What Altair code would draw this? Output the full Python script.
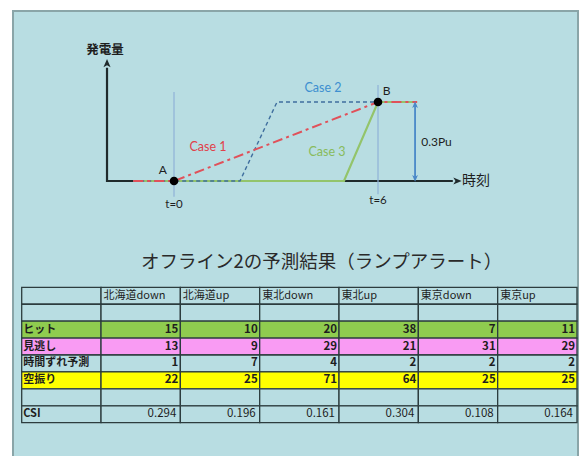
import altair as alt
import pandas as pd

# ---------------- diagram data (t: time, p: output in Pu) ----------------
case1_t = [-1.2, 0.0, 6.0, 7.15]
case1_p = [0.0, 0.0, 0.3, 0.3]
case2_t = [-1.2, 1.94, 3.03, 6.0]
case2_p = [0.0, 0.0, 0.3, 0.3]
case3_t = [-1.2, 5.0, 6.0, 7.15]
case3_p = [0.0, 0.0, 0.3, 0.3]

axis_t = [-1.97, -1.97, 8.2]
axis_p = [0.43, 0.0, 0.0]

point_names = ["A", "B"]
point_t = [0.0, 6.0]
point_p = [0.0, 0.3]

# ---------------- table data ----------------
col_headers = ["", "北海道down", "北海道up", "東北down", "東北up", "東京down", "東京up"]
row_labels = ["", "", "ヒット", "見逃し", "時間ずれ予測", "空振り", "", "CSI"]
row_fills = ["#b8dde2", "#b8dde2", "#8fcc4f", "#f99bf3", "#b8dde2", "#ffff00", "#b8dde2", "#b8dde2"]
hit = [15, 10, 20, 38, 7, 11]
miss = [13, 9, 29, 21, 31, 29]
time_shift = [1, 7, 4, 2, 2, 2]
false_alarm = [22, 25, 71, 64, 25, 25]
csi = [0.294, 0.196, 0.161, 0.304, 0.108, 0.164]
title_text = "オフライン2の予測結果（ランプアラート）"

BG = "#b8dde2"
JP = "Noto Sans CJK JP"
LAT = "Lato"

# scales
TX = alt.Scale(domain=[0, 6], range=[166, 370])
TY = alt.Scale(domain=[0, 0.3], range=[173, 94])
GX = alt.Scale(domain=[0, 7], range=[13.7, 569])
GY = alt.Scale(domain=[0, 8], range=[279.3, 414.7])


def dx_(f="t"):
    return alt.X(f"{f}:Q", scale=TX, axis=None)


def dy_(f="p"):
    return alt.Y(f"{f}:Q", scale=TY, axis=None)


def gx_(f="c"):
    return alt.X(f"{f}:Q", scale=GX, axis=None)


def gy_(f="r"):
    return alt.Y(f"{f}:Q", scale=GY, axis=None)


layers = []

# panel background
panel = alt.Chart(pd.DataFrame({"a": [0]})).mark_rect(
    fill=BG, stroke="#8aa5a8", strokeWidth=2
).encode(x=alt.value(5), x2=alt.value(570), y=alt.value(3), y2=alt.value(470))
layers.append(panel)


def line_df(ts, ps):
    return pd.DataFrame({"t": ts, "p": ps, "i": list(range(len(ts)))})


# axes
layers.append(alt.Chart(line_df(axis_t, axis_p)).mark_line(color="#1f2a2c", strokeWidth=2.2).encode(
    x=dx_(), y=dy_(), order="i:Q"))

arrow_shape = "M0,-1L0.75,0.75L0,0.3L-0.75,0.75Z"
arrows = pd.DataFrame({"t": [-1.97, 8.32], "p": [0.445, 0.0], "a": [0, 90]})
layers.append(alt.Chart(arrows).mark_point(shape=arrow_shape, filled=True, size=90, color="#1f2a2c", opacity=1).encode(
    x=dx_(), y=dy_(), angle=alt.Angle("a:Q", scale=None)))

# vertical reference lines at t=0 and t=6
vref = pd.DataFrame({"t": [0.0, 6.0], "p1": [0.338, 0.365], "p2": [-0.06, -0.05]})
layers.append(alt.Chart(vref).mark_rule(color="#8fb3d8", strokeWidth=1.2).encode(
    x=dx_(), y=dy_("p1"), y2="p2:Q"))

# cases
layers.append(alt.Chart(line_df(case3_t, case3_p)).mark_line(color="#93c46b", strokeWidth=2.2).encode(
    x=dx_(), y=dy_(), order="i:Q"))
layers.append(alt.Chart(line_df(case2_t, case2_p)).mark_line(color="#3f6e9e", strokeWidth=1.4, strokeDash=[4, 3]).encode(
    x=dx_(), y=dy_(), order="i:Q"))
layers.append(alt.Chart(line_df(case1_t, case1_p)).mark_line(color="#e0515a", strokeWidth=2, strokeDash=[10, 4, 3, 4]).encode(
    x=dx_(), y=dy_(), order="i:Q"))

# double arrow 0.3Pu
darrow = pd.DataFrame({"t": [7.09, 7.09], "p": [0.015, 0.285], "i": [0, 1]})
layers.append(alt.Chart(darrow).mark_line(color="#4a88c8", strokeWidth=1.8).encode(x=dx_(), y=dy_(), order="i:Q"))
dheads = pd.DataFrame({"t": [7.09, 7.09], "p": [0.288, 0.012], "a": [0, 180]})
layers.append(alt.Chart(dheads).mark_point(shape=arrow_shape, filled=True, size=60, color="#4a88c8", opacity=1).encode(
    x=dx_(), y=dy_(), angle=alt.Angle("a:Q", scale=None)))

# points A, B
layers.append(alt.Chart(pd.DataFrame({"t": point_t, "p": point_p})).mark_point(
    filled=True, size=75, color="#000000", opacity=1).encode(x=dx_(), y=dy_()))

# diagram labels
labels = pd.DataFrame({
    "t": [-2.03, 8.88, -0.33, 6.25, 0.0, 6.0, 1.0, 4.38, 4.5, 7.27],
    "p": [0.497, 0.0, 0.042, 0.342, -0.09, -0.075, 0.129, 0.353, 0.11, 0.148],
    "txt": ["発電量", "時刻", "A", "B", "t=0", "t=6", "Case 1", "Case 2", "Case 3", "0.3Pu"],
    "col": ["#1e1e1e", "#1e1e1e", "#1e1e1e", "#1e1e1e", "#1e1e1e", "#1e1e1e", "#e0404a", "#3d8fd0", "#88bb5c", "#1e1e1e"],
    "fs": [12.5, 14, 12, 12, 11.5, 11.5, 12.5, 12.5, 12.5, 12],
    "fw": ["bold", "normal", "normal", "normal", "normal", "normal", "normal", "normal", "normal", "normal"],
    "al": ["center", "center", "center", "center", "center", "center", "center", "center", "center", "left"],
})
for _, r in labels.iterrows():
    font = JP if r["txt"] in ("発電量", "時刻") else LAT
    layers.append(alt.Chart(pd.DataFrame([r])).mark_text(
        font=font, fontSize=float(r["fs"]), fontWeight=r["fw"], color=r["col"], align=r["al"], baseline="middle"
    ).encode(x=dx_(), y=dy_(), text="txt:N"))

# title
layers.append(alt.Chart(pd.DataFrame({"c": [3.78], "r": [-1.5], "txt": [title_text]})).mark_text(
    font=JP, fontSize=18.5, color="#2a2a2a", align="center", baseline="middle"
).encode(x=gx_(), y=gy_(), text="txt:N"))

# table cells
cells = []
for r in range(8):
    for c in range(7):
        cells.append({"c": c, "c2": c + 1, "r": r, "r2": r + 1, "fill": row_fills[r]})
cells = pd.DataFrame(cells)
layers.append(alt.Chart(cells).mark_rect(stroke="#2c3c3e", strokeWidth=1.3).encode(
    x=gx_(), x2="c2:Q", y=gy_(), y2="r2:Q", fill=alt.Fill("fill:N", scale=None)))

# headers
hdr = pd.DataFrame({"c": list(range(1, 7)), "r": [0.5] * 6, "txt": col_headers[1:]})
layers.append(alt.Chart(hdr).mark_text(font=JP, fontSize=11, color="#1e1e1e", align="left", baseline="middle", dx=2.5).encode(
    x=gx_(), y=gy_(), text="txt:N"))

# row labels
rl = pd.DataFrame({"c": [0] * 8, "r": [i + 0.5 for i in range(8)], "txt": row_labels})
rl = rl[rl["txt"] != ""]
layers.append(alt.Chart(rl).mark_text(font=JP, fontSize=11, fontWeight="bold", color="#1e1e1e", align="left", baseline="middle", dx=1.5).encode(
    x=gx_(), y=gy_(), text="txt:N"))

# integer values
vals = []
for ri, series in zip([2, 3, 4, 5], [hit, miss, time_shift, false_alarm]):
    for ci, v in enumerate(series):
        vals.append({"c": ci + 2, "r": ri + 0.5, "txt": str(v)})
vals = pd.DataFrame(vals)
layers.append(alt.Chart(vals).mark_text(font=JP, fontSize=11.5, fontWeight="bold", color="#1e1e1e", align="right", baseline="middle", dx=-2).encode(
    x=gx_(), y=gy_(), text="txt:N"))

# CSI
cs = pd.DataFrame({"c": [i + 2 for i in range(6)], "r": [7.5] * 6, "txt": [f"{v:.3f}" for v in csi]})
layers.append(alt.Chart(cs).mark_text(font=JP, fontSize=11.5, color="#1e1e1e", align="right", baseline="middle", dx=-4).encode(
    x=gx_(), y=gy_(), text="txt:N"))

chart = alt.layer(*layers).resolve_scale(x="independent", y="independent").properties(
    width=571, height=448, padding=0, autosize="none", background="white"
).configure_view(stroke=None)

chart.save("out.html", embed_options={"renderer": "svg", "actions": False})
